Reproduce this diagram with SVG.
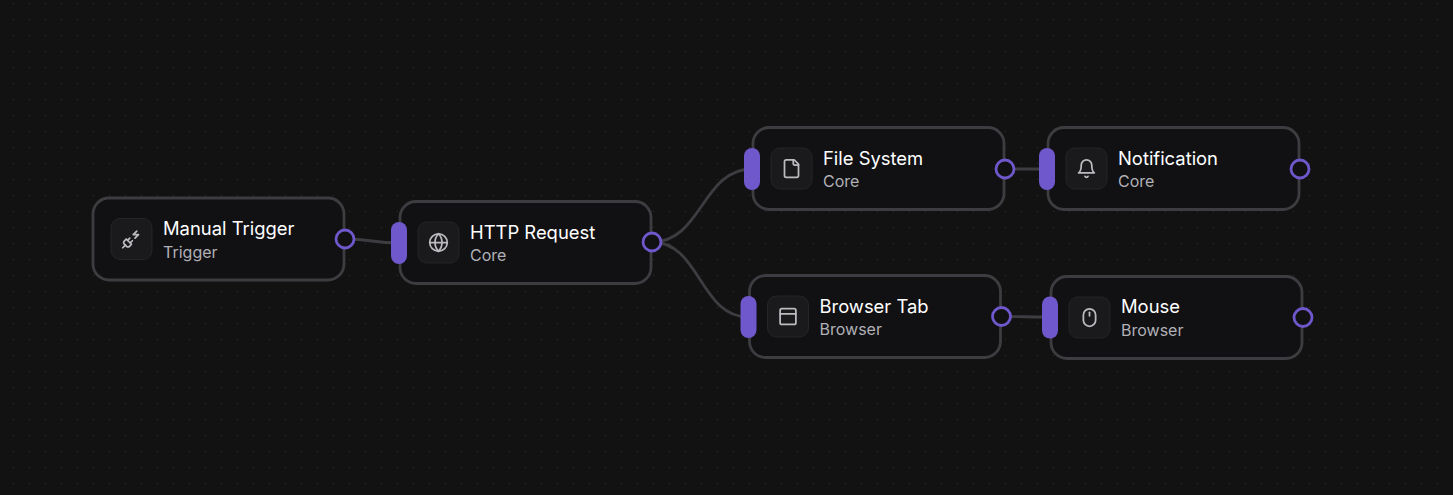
<svg xmlns="http://www.w3.org/2000/svg" width="1453" height="495" viewBox="0 0 1453 495">
<style>
text{font-family:Inter,"Liberation Sans",sans-serif}
.card{fill:#111114;stroke:#3d3d41;stroke-width:2.8}
.box{fill:#1a1a1d;stroke:#252528;stroke-width:1}
.t{font-size:18.4px;fill:#fff}
.s{font-size:16px;fill:#b0b0b6}
.pill{fill:#6f58cc}
.out{fill:#111114;stroke:#6f58cc;stroke-width:2.8}
.ic{fill:none;stroke:#bcbcc0;stroke-width:2;stroke-linecap:round;stroke-linejoin:round}
.e{fill:none;stroke:#3d3d41;stroke-width:2.8}
</style>
<defs>
<pattern id="dots" width="16" height="16" patternUnits="userSpaceOnUse" x="5" y="-5">
<rect x="8" y="8" width="1" height="1" fill="#303032"/>
</pattern>
<g id="i-plug" class="ic"><path d="M6.3 20.3a2.4 2.4 0 0 0 3.4 0L12 18l-6-6-2.3 2.3a2.4 2.4 0 0 0 0 3.4Z"/><path d="m2 22 3-3"/><path d="M7.5 13.5 10 11"/><path d="M10.5 16.5 13 14"/><path d="m18 3-4 4h6l-4 4"/></g>
<g id="i-globe" class="ic"><circle cx="12" cy="12" r="10"/><path d="M12 2a14.5 14.5 0 0 0 0 20 14.5 14.5 0 0 0 0-20"/><path d="M2 12h20"/></g>
<g id="i-file" class="ic"><path d="M15 2H6a2 2 0 0 0-2 2v16a2 2 0 0 0 2 2h12a2 2 0 0 0 2-2V7Z"/><path d="M14 2v4a2 2 0 0 0 2 2h4"/></g>
<g id="i-bell" class="ic"><path d="M6 8a6 6 0 0 1 12 0c0 7 3 9 3 9H3s3-2 3-9"/><path d="M10.3 21a1.94 1.94 0 0 0 3.4 0"/></g>
<g id="i-tab" class="ic"><rect x="3" y="3" width="18" height="18" rx="2"/><path d="M3 9h18"/></g>
<g id="i-mouse" class="ic"><rect x="5" y="2" width="14" height="20" rx="7"/><path d="M12 6v4"/></g>
</defs>
<rect width="1453" height="495" fill="#121213"/>
<rect width="1453" height="495" fill="url(#dots)"/>
<g id="connectors">
<path class="e" d="M345 239C372 239 372 243 399 243"/>
<path class="e" d="M652 242C702 242 702 169 752 169"/>
<path class="e" d="M652 242C700 242 700 317 748 317"/>
<path class="e" d="M1005 169H1047"/>
<path class="e" d="M1001 316.500C1025 316.500 1025 317 1049 317"/>
</g>
<g id="node-manual-trigger" transform="translate(93 198)">
<rect class="card" width="251" height="82" rx="16"/>
<rect class="box" x="18" y="20.500" width="41" height="41" rx="9"/>
<use href="#i-plug" transform="translate(28 30.500) scale(.875)"/>
<text class="t" x="70" y="37">Manual Trigger</text>
<text class="s" x="70" y="60">Trigger</text>
<circle class="out" cx="252" cy="41" r="9"/>
</g>
<g id="node-http-request" transform="translate(400 201.500)">
<rect class="card" width="251" height="82" rx="16"/>
<rect class="box" x="18" y="20.500" width="41" height="41" rx="9"/>
<use href="#i-globe" transform="translate(28 30.500) scale(.875)"/>
<text class="t" x="70" y="37.500">HTTP Request</text>
<text class="s" x="70" y="59.500">Core</text>
<rect class="pill" x="-9" y="20.500" width="16" height="42" rx="8"/>
<circle class="out" cx="252" cy="40.500" r="9"/>
</g>
<g id="node-file-system" transform="translate(753 127.500)">
<rect class="card" width="251" height="82" rx="16"/>
<rect class="box" x="18" y="20.500" width="41" height="41" rx="9"/>
<use href="#i-file" transform="translate(28 30.500) scale(.875)"/>
<text class="t" x="70" y="37.500">File System</text>
<text class="s" x="70" y="59.500">Core</text>
<rect class="pill" x="-9" y="20.500" width="16" height="42" rx="8"/>
<circle class="out" cx="252" cy="41.500" r="9"/>
</g>
<g id="node-notification" transform="translate(1048 127.500)">
<rect class="card" width="251" height="82" rx="16"/>
<rect class="box" x="18" y="20.500" width="41" height="41" rx="9"/>
<use href="#i-bell" transform="translate(28 30.500) scale(.875)"/>
<text class="t" x="70" y="37.500">Notification</text>
<text class="s" x="70" y="59.500">Core</text>
<rect class="pill" x="-9" y="20.500" width="16" height="42" rx="8"/>
<circle class="out" cx="252" cy="41.500" r="9"/>
</g>
<g id="node-browser-tab" transform="translate(749.500 275.500)">
<rect class="card" width="251" height="82" rx="16"/>
<rect class="box" x="18" y="20.500" width="41" height="41" rx="9"/>
<use href="#i-tab" transform="translate(28 30.500) scale(.875)"/>
<text class="t" x="70" y="37.500">Browser Tab</text>
<text class="s" x="70" y="59.500">Browser</text>
<rect class="pill" x="-9" y="20.500" width="16" height="42" rx="8"/>
<circle class="out" cx="252" cy="41" r="9"/>
</g>
<g id="node-mouse" transform="translate(1051 276.500)">
<rect class="card" width="251" height="82" rx="16"/>
<rect class="box" x="18" y="20.500" width="41" height="41" rx="9"/>
<use href="#i-mouse" transform="translate(28 30.500) scale(.875)"/>
<text class="t" x="70" y="36.500">Mouse</text>
<text class="s" x="70" y="59">Browser</text>
<rect class="pill" x="-9" y="20" width="16" height="42" rx="8"/>
<circle class="out" cx="252" cy="41" r="9"/>
</g>
</svg>
